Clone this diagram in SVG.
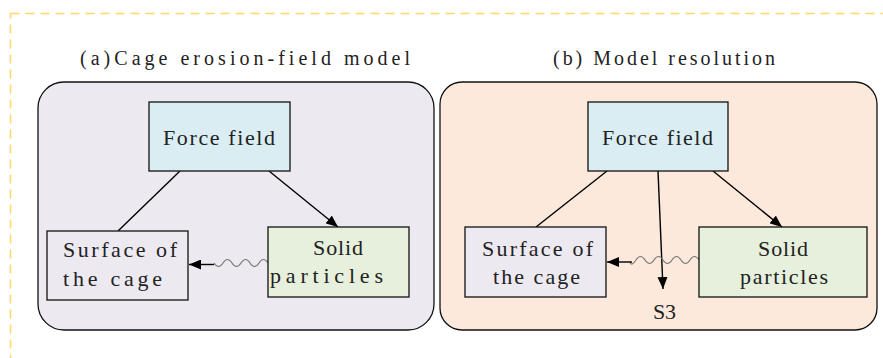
<svg xmlns="http://www.w3.org/2000/svg" width="883" height="358" viewBox="0 0 883 358">
<style>
text{font-family:"Liberation Serif","DejaVu Serif",serif;fill:#222;font-size:22px}
text.t{font-size:20px}
.node{stroke:#111;stroke-width:1.3}
.edge{stroke:#000;stroke-width:1.4;fill:none}
.wave{stroke:#777;stroke-width:1.1;fill:none}
</style>
<defs>
<marker id="ah" viewBox="0 0 12 10" refX="12" refY="5" markerWidth="12" markerHeight="10" markerUnits="userSpaceOnUse" orient="auto">
<path d="M0,0 L12,5 L0,10 z" fill="#000"/>
</marker>
</defs>
<rect x="10.5" y="13.5" width="900" height="400" fill="#fff" stroke="#ffd966" stroke-width="1.5" stroke-dasharray="9,6"/>
<g id="titles">
<text class="t" x="80" y="65" textLength="330" lengthAdjust="spacing">(a)Cage erosion-field model</text>
<text class="t" x="553" y="65" textLength="222" lengthAdjust="spacing">(b) Model resolution</text>
</g>
<g id="panelA"><rect x="38" y="82" width="396" height="248" rx="26" fill="#ece9f1" stroke="#111" stroke-width="1.3"/></g>
<g id="panelB"><rect x="440" y="82" width="437" height="248" rx="22" fill="#fce9db" stroke="#111" stroke-width="1.3"/></g>
<g id="connectors">
<line class="edge" x1="180" y1="171" x2="118" y2="231"/>
<line class="edge" x1="269" y1="171" x2="338" y2="227" marker-end="url(#ah)"/>
<path class="wave" d="M268,263 q-4.5,-7 -9,0 t-9,0 t-9,0 t-9,0 t-9,0 t-9,0"/>
<line class="edge" x1="214" y1="264.5" x2="189" y2="264.5" marker-end="url(#ah)"/>
<line class="edge" x1="607" y1="171" x2="536" y2="227"/>
<line class="edge" x1="713" y1="171" x2="782" y2="227" marker-end="url(#ah)"/>
<line class="edge" x1="658" y1="171" x2="663" y2="289" marker-end="url(#ah)"/>
<path class="wave" d="M699,260 q-4.5,-7 -9,0 t-9,0 t-9,0 t-9,0 t-9,0 t-9,0 t-9,0 t-6,2"/>
<line class="edge" x1="632" y1="262" x2="607" y2="262" marker-end="url(#ah)"/>
</g>
<g id="forceA">
<rect class="node" x="149" y="102" width="141" height="69" fill="#daedf3"/>
<text x="163" y="145" textLength="112" lengthAdjust="spacing">Force field</text>
</g>
<g id="surfaceA">
<rect class="node" x="47" y="231" width="141" height="69" fill="#ece9f1"/>
<text x="63" y="257" textLength="114" lengthAdjust="spacing">Surface of</text>
<text x="63" y="286" textLength="99" lengthAdjust="spacing">the cage</text>
</g>
<g id="solidA">
<rect class="node" x="268" y="227" width="141" height="70" fill="#e7f0dc"/>
<text x="313" y="255" textLength="50" lengthAdjust="spacing">Solid</text>
<text x="270" y="283" textLength="113" lengthAdjust="spacing">particles</text>
</g>
<g id="forceB">
<rect class="node" x="588" y="102" width="140" height="69" fill="#daedf3"/>
<text x="602" y="145" textLength="111" lengthAdjust="spacing">Force field</text>
</g>
<g id="surfaceB">
<rect class="node" x="465" y="227" width="141" height="70" fill="#ece9f1"/>
<text x="482" y="256" textLength="111" lengthAdjust="spacing">Surface of</text>
<text x="493" y="284" textLength="87" lengthAdjust="spacing">the cage</text>
</g>
<g id="solidB">
<rect class="node" x="699" y="227" width="168" height="70" fill="#e7f0dc"/>
<text x="758" y="256" textLength="50" lengthAdjust="spacing">Solid</text>
<text x="740" y="284" textLength="88" lengthAdjust="spacing">particles</text>
</g>
<g id="s3">
<text x="653" y="319" textLength="23" lengthAdjust="spacing">S3</text>
</g>
</svg>
